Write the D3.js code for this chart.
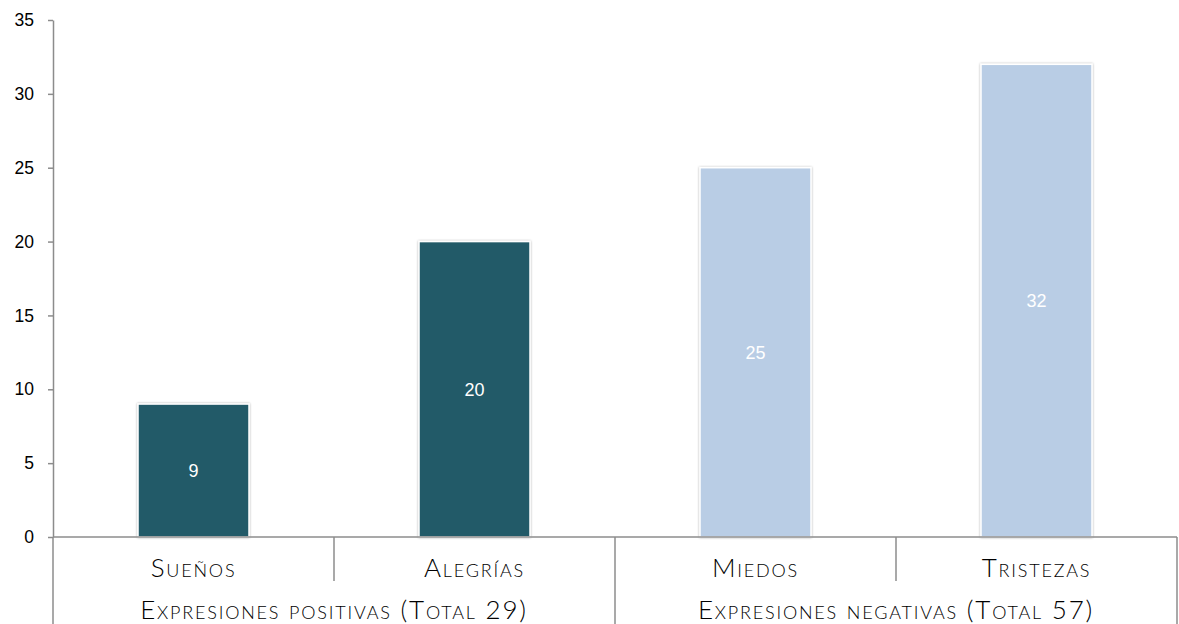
<!DOCTYPE html>
<html><head><meta charset="utf-8">
<script src="https://cdn.jsdelivr.net/npm/d3@7/dist/d3.min.js"></script>
<style>
html,body{margin:0;padding:0;background:#fff;}
svg{display:block;}
</style></head>
<body>
<svg id="chart" width="1179" height="624"></svg>
<script>
const categories = ["Sueños", "Alegrías", "Miedos", "Tristezas"];
const values = [9, 20, 25, 32];
const groups = ["Expresiones positivas (Total 29)", "Expresiones negativas (Total 57)"];
const groupOf = [0, 0, 1, 1];
const barColors = ["#235a68", "#b9cde5"];
const yTicks = [0, 5, 10, 15, 20, 25, 30, 35];

const svg = d3.select("#chart");
const mLeft = 53, mRight = 1177, mTop = 20, mBottom = 537;

const x = d3.scaleBand().domain(categories).range([mLeft, mRight]).paddingInner(0.605).paddingOuter(0.3025);
const xb = d3.scaleBand().domain(categories).range([mLeft, mRight]).padding(0);
const y = d3.scaleLinear().domain([0, 35]).range([mBottom, mTop]);

const defs = svg.append("defs");
const f = defs.append("filter").attr("id", "sh").attr("x", "-10%").attr("y", "-10%").attr("width", "120%").attr("height", "120%");
f.append("feDropShadow").attr("dx", 0).attr("dy", 0).attr("stdDeviation", 1.3).attr("flood-color", "#000").attr("flood-opacity", 0.35);

// bars
svg.append("g").selectAll("rect").data(values).join("rect")
  .attr("x", (d, i) => x(categories[i]))
  .attr("y", d => y(d))
  .attr("width", x.bandwidth())
  .attr("height", d => y(0) - y(d))
  .attr("fill", (d, i) => barColors[groupOf[i]])
  .attr("stroke", "#fff").attr("stroke-width", 1.5)
  .attr("filter", "url(#sh)");

// value labels
svg.append("g").selectAll("text").data(values).join("text")
  .attr("x", (d, i) => x(categories[i]) + x.bandwidth() / 2)
  .attr("y", d => (y(d) + y(0)) / 2)
  .attr("dy", "0.36em")
  .attr("text-anchor", "middle")
  .attr("fill", "#fff")
  .attr("font-family", "Liberation Sans, Arial, sans-serif")
  .attr("font-size", 18)
  .text(d => d);

// y axis
const yAxis = d3.axisLeft(y).tickValues(yTicks).tickSize(5).tickSizeOuter(0);
const ga = svg.append("g").attr("transform", `translate(${mLeft},0)`).call(yAxis);
ga.select(".domain").attr("stroke", "#8c8c8c").attr("stroke-width", 1.5);
ga.selectAll(".tick line").attr("stroke", "#8c8c8c").attr("stroke-width", 1.5);
ga.selectAll(".tick text").attr("font-family", "Liberation Sans, Arial, sans-serif").attr("font-size", 17.5).attr("fill", "#000").attr("x", -19);

// x axis lines
const axisColor = "#8c8c8c";
svg.append("line").attr("x1", mLeft).attr("x2", mRight).attr("y1", y(0)).attr("y2", y(0)).attr("stroke", axisColor).attr("stroke-width", 1.5);
// category dividers
const catBounds = categories.map(c => xb(c)).concat([mRight]);
catBounds.forEach((bx, i) => {
  const isGroupEdge = (i === 0 || i === categories.length || groupOf[i] !== groupOf[i - 1]);
  svg.append("line").attr("x1", bx).attr("x2", bx).attr("y1", y(0)).attr("y2", isGroupEdge ? 624 : 581)
    .attr("stroke", axisColor).attr("stroke-width", 1.5);
});

const labelFont = "Lato, 'Noto Sans', sans-serif";
// category labels
svg.append("g").selectAll("text").data(categories).join("text")
  .attr("x", c => xb(c) + xb.bandwidth() / 2)
  .attr("y", 577)
  .attr("text-anchor", "middle")
  .attr("font-family", labelFont)
  .attr("font-size", 26)
  .attr("font-weight", 300)
  .attr("letter-spacing", 1.8)
  .style("font-variant", "small-caps")
  .attr("fill", "#000")
  .text(c => c);

// group labels
svg.append("g").selectAll("text").data(groups).join("text")
  .attr("x", (g, gi) => {
    const cs = categories.filter((c, i) => groupOf[i] === gi);
    return (xb(cs[0]) + xb(cs[cs.length - 1]) + xb.bandwidth()) / 2;
  })
  .attr("y", 619)
  .attr("text-anchor", "middle")
  .attr("font-family", labelFont)
  .attr("font-size", 26)
  .attr("font-weight", 300)
  .attr("letter-spacing", 1.8)
  .style("font-variant", "small-caps")
  .attr("fill", "#000")
  .text(g => g);
</script>
</body></html>
